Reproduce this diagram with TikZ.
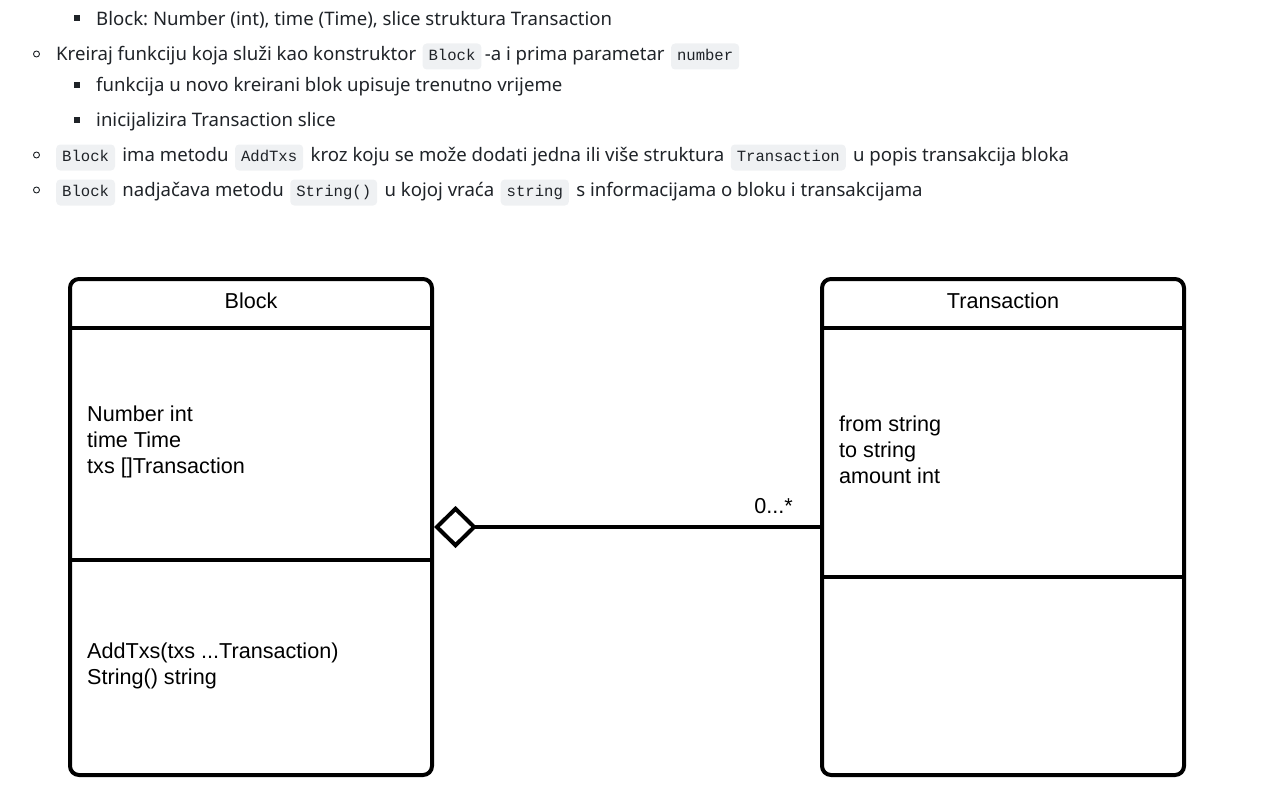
\documentclass[tikz,border=0pt]{standalone}
\usepackage{fontspec}
\setmainfont{Noto Sans}
\newfontfamily\umlfont{Liberation Sans}
\newfontfamily\codefont{Liberation Mono}
\usetikzlibrary{positioning,arrows.meta}
\frenchspacing
\definecolor{txtgray}{HTML}{1F2328}
\definecolor{codebg}{HTML}{EFF1F3}
\tikzstyle{txt} = [inner sep=0pt, text=txtgray, font=\fontsize{18.6}{22}\selectfont]
\tikzstyle{code} = [fill=codebg, rounded corners=4pt, inner xsep=6pt, inner ysep=0pt, text height=17pt, text depth=9pt, text=txtgray, font=\codefont\fontsize{15.6}{18}\selectfont]
\tikzstyle{sq} = [rectangle, fill=txtgray, inner sep=0pt, minimum size=6pt]
\tikzstyle{disc} = [circle, draw=txtgray, line width=0.9pt, inner sep=0pt, minimum size=6pt]
\tikzstyle{umlbox} = [draw, line width=4pt, rounded corners=9pt, inner sep=0pt, minimum width=362pt, minimum height=496pt, anchor=north west]
\tikzstyle{umltxt} = [font=\umlfont\fontsize{21.6}{26}\selectfont, align=left, inner sep=0pt]
\tikzstyle{line} = [draw, line width=4pt]

\begin{document}
\begin{tikzpicture}[x=1pt, y=-1pt]
	\useasboundingbox (0,0) rectangle (1274,800);
	% Bullet list
	\node [sq] (bul1) at (76.5,18.5) {};
	\node [txt, anchor=base west] (l1) at (96,25.5) {Block: Number (int), time (Time), slice struktura Transaction};
	\node [disc] (bul2) at (36.5,54) {};
	\node [txt, anchor=base west] (l2a) at (56,60.5) {Kreiraj funkciju koja služi kao konstruktor};
	\node [code, base right=6pt of l2a] (l2b) {Block};
	\node [txt, base right=3pt of l2b] (l2c) {-a i prima parametar};
	\node [code, base right=6pt of l2c] (l2d) {number};
	\node [sq] (bul3) at (76.5,84.5) {};
	\node [txt, anchor=base west] (l3) at (96,91.5) {funkcija u novo kreirani blok upisuje trenutno vrijeme};
	\node [sq] (bul4) at (76.5,119.5) {};
	\node [txt, anchor=base west] (l4) at (96,126.5) {inicijalizira Transaction slice};
	\node [disc] (bul5) at (36.5,155) {};
	\node [code, anchor=base west] (l5a) at (56,161.5) {Block};
	\node [txt, base right=7pt of l5a] (l5b) {ima metodu};
	\node [code, base right=6pt of l5b] (l5c) {AddTxs};
	\node [txt, base right=7pt of l5c] (l5d) {kroz koju se može dodati jedna ili više struktura};
	\node [code, base right=6pt of l5d] (l5e) {Transaction};
	\node [txt, base right=7pt of l5e] (l5f) {u popis transakcija bloka};
	\node [disc] (bul6) at (36.5,190) {};
	\node [code, anchor=base west] (l6a) at (56,196.5) {Block};
	\node [txt, base right=7pt of l6a] (l6b) {nadjačava metodu};
	\node [code, base right=6pt of l6b] (l6c) {String()};
	\node [txt, base right=7pt of l6c] (l6d) {u kojoj vraća};
	\node [code, base right=6pt of l6d] (l6e) {string};
	\node [txt, base right=7pt of l6e] (l6f) {s informacijama o bloku i transakcijama};

	% UML classes
	\node [umlbox] (block) at (68,277) {};
	\node [umltxt] (blockname) at (251,301) {Block};
	\draw [line] (70,328) -- (432,328);
	\draw [line] (70,560) -- (432,560);
	\node [umltxt, anchor=west] (blockattr) at (87,442) {Number int\\time Time\\txs []Transaction};
	\node [umltxt, anchor=west] (blockops) at (87,666) {AddTxs(txs ...Transaction)\\String() string};

	\node [umlbox] (trans) at (820,277) {};
	\node [umltxt] (transname) at (1003,301) {Transaction};
	\draw [line] (822,328) -- (1184,328);
	\draw [line] (822,577) -- (1184,577);
	\node [umltxt, anchor=west] (transattr) at (839,450) {from string\\to string\\amount int};

	% Aggregation
	\path [line, -{Diamond[open, length=43pt, width=42pt]}] (trans.west) -- (block.east);
	\node [umltxt, above left=13pt and 27pt of trans.west] (mult) {0...*};
\end{tikzpicture}
\end{document}
